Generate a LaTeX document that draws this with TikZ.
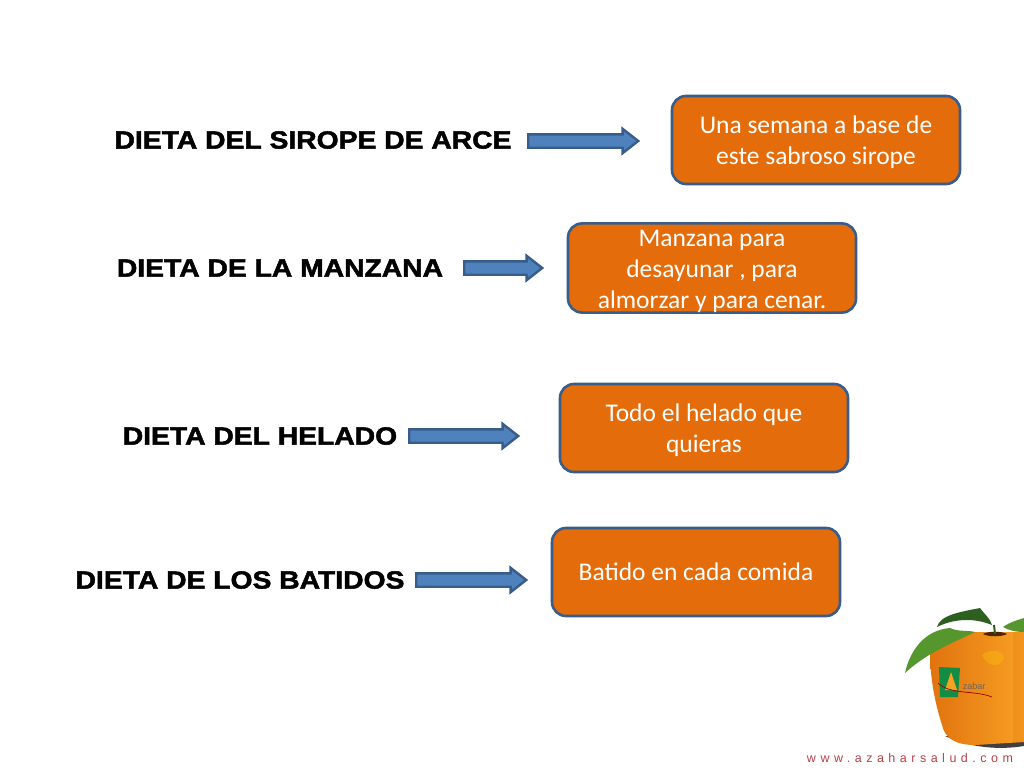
\documentclass[tikz,border=0pt]{standalone}
\usepackage{fontspec}
\setmainfont{Carlito}
\newfontfamily\headfont[FakeStretch=1.14,FakeBold=2]{Liberation Sans}
\newfontfamily\footfont[LetterSpace=36]{Liberation Sans}
\newfontfamily\logofont{Liberation Sans}
\usepackage{tikz}
\usetikzlibrary{shapes.arrows}
\definecolor{boxorange}{RGB}{228,108,10}
\definecolor{boxblue}{RGB}{56,93,138}
\definecolor{arrowblue}{RGB}{79,129,189}
\definecolor{leafgreen}{RGB}{85,150,45}
\definecolor{leafdark}{RGB}{45,95,30}
\definecolor{fruitlight}{RGB}{248,160,35}
\definecolor{fruitdeep}{RGB}{225,115,15}
\definecolor{logogreen}{RGB}{20,140,70}
\definecolor{footred}{RGB}{185,65,70}
\newcommand{\dietgap}{\rule{0pt}{23pt}}
\tikzset{
  dietbox/.style={draw=boxblue, line width=2.6pt, fill=boxorange, rounded corners=14pt, text=white, align=center, font=\fontsize{25.5}{31}\selectfont, inner sep=0pt, minimum width=288pt, minimum height=88pt},
  diettitle/.style={font=\headfont\bfseries\fontsize{24.8}{28}\selectfont, text=black, inner sep=0pt},
  dietarrow/.style={single arrow, draw=boxblue, line width=2.4pt, fill=arrowblue, inner sep=5.5pt, single arrow head extend=5.5pt, single arrow tip angle=76, single arrow head indent=0pt, minimum width=22pt, anchor=tail},
}
\begin{document}
\begin{tikzpicture}[x=1pt, y=-1pt]
  \useasboundingbox (0, 0) rectangle (1024, 768);
  \fill[white] (0, 0) rectangle (1024, 768);
  % titles
  \node[diettitle] (sirope) at (313, 140) {DIETA DEL SIROPE DE ARCE};
  \node[diettitle] (manzana) at (280, 268) {DIETA DE LA MANZANA};
  \node[diettitle] (helado) at (260, 436) {DIETA DEL HELADO};
  \node[diettitle] (batidos) at (240, 580) {DIETA DE LOS BATIDOS};
  % boxes
  \node[dietbox] (boxa) at (816, 140) {\dietgap Una semana a base de\\este sabroso sirope};
  \node[dietbox] (boxb) at (712, 268) {\dietgap Manzana para\\desayunar , para\\almorzar y para cenar.};
  \node[dietbox] (boxc) at (704, 428) {\dietgap Todo el helado que\\quieras};
  \node[dietbox] (boxd) at (696, 572) {Batido en cada comida};
  % arrows
  \node[dietarrow, minimum height=110pt] (arrowa) at (527, 141) {};
  \node[dietarrow, minimum height=78pt] (arrowb) at (463, 268) {};
  \node[dietarrow, minimum height=109pt] (arrowc) at (408, 436) {};
  \node[dietarrow, minimum height=110pt] (arrowd) at (415, 580) {};
  % fruit
  \fill[black!75] (945, 736) .. controls (970, 748) and (1000, 750) .. (1024, 746) -- (1024, 736) -- cycle;
  \shade[left color=fruitdeep, right color=fruitlight] (930, 652) .. controls (940, 638) and (960, 632) .. (975, 632) -- (1024, 632) -- (1024, 742) -- (975, 745) .. controls (955, 745) and (945, 738) .. (942, 725) .. controls (934, 700) and (930, 675) .. cycle;
  \fill[fruitdeep, opacity=.25] (1013, 632) -- (1024, 632) -- (1024, 742) -- (1013, 743) -- cycle;
  \fill[yellow!60!orange, opacity=.35] (982, 655) .. controls (990, 648) and (1002, 650) .. (1004, 658) .. controls (1000, 668) and (988, 668) .. cycle;
  \fill[black!70!orange] (983, 634) .. controls (988, 631) and (1002, 631) .. (1007, 634) .. controls (1002, 637) and (988, 637) .. cycle;
  \draw[leafdark, line width=2pt] (995, 634) -- (994, 625);
  \fill[leafgreen] (905, 673) .. controls (910, 650) and (925, 630) .. (950, 628) .. controls (958, 632) and (968, 630) .. (975, 632) .. controls (960, 640) and (930, 650) .. cycle;
  \fill[leafdark] (937, 627) .. controls (940, 615) and (960, 612) .. (980, 608) .. controls (985, 615) and (990, 618) .. (992, 625) .. controls (975, 618) and (955, 618) .. cycle;
  \fill[leafgreen] (1003, 627) .. controls (1010, 622) and (1018, 620) .. (1024, 618) -- (1024, 632) .. controls (1015, 632) and (1008, 630) .. cycle;
  % logo
  \fill[logogreen] (939, 667) -- (960, 668) -- (958, 697) -- (940, 697) -- cycle;
  \fill[fruitlight] (945, 690) -- (951, 672) -- (957, 690) -- cycle;
  \draw[red!60!black, line width=.7pt] (938, 683) .. controls (950, 695) and (975, 690) .. (992, 697);
  \node[font=\logofont\fontsize{9}{9}\selectfont, text=black!60, inner sep=0pt] (logotext) at (974, 686) {zabar};
  % footer
  \node[font=\footfont\fontsize{12.5}{14}\selectfont, text=footred, inner sep=0pt] (webtext) at (910, 758) {www.azaharsalud.com};
\end{tikzpicture}
\end{document}
